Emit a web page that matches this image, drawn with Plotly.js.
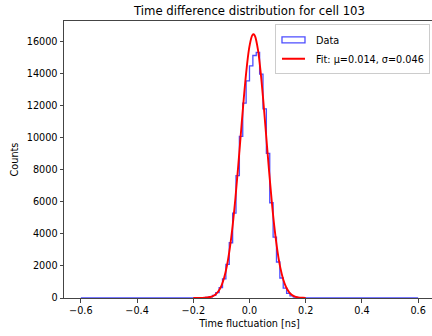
<!DOCTYPE html>
<html>
<head>
<meta charset="utf-8">
<script src="https://cdn.plot.ly/plotly-3.0.1.min.js"></script>
<style>
html, body { margin: 0; padding: 0; overflow: hidden; background: #fff; }
#chart { width: 437px; height: 336px; }
</style>
</head>
<body>
<div id="chart"></div>
<script>
// Histogram: 100 bins over [-0.6, 0.6]
const binStart = -0.6;
const binWidth = 0.012;
const counts = [
  0,0,0,0,0,0,0,0,0,0, 0,0,0,0,0,0,0,0,0,0, 0,0,0,0,0,0,0,0,0,0, 0,0,0,0,0,
  5,12,30,70,160,330,650,1200,2100,3450,5300,7650,10100,12170,13560,14500,
  15150,15340,13980,11810,9040,5950,3800,2250,1250,620,290,130,60,25,10,5,2,
  0,0,0,0,0,0,0,0,0,0, 0,0,0,0,0,0,0,0,0,0, 0,0,0,0,0,0,0,0,0,0, 0,0
];

// Fit curve
const fitX = [-0.20,-0.19,-0.18,-0.17,-0.16,-0.15,-0.14,-0.13,-0.12,-0.11,-0.10,
  -0.09,-0.08,-0.07,-0.06,-0.05,-0.04,-0.03,-0.02,-0.01,0.00,0.01,0.015,0.02,0.03,
  0.04,0.05,0.06,0.07,0.08,0.09,0.10,0.11,0.12,0.13,0.14,0.15,0.16,0.17,0.18,0.19,0.20];
const fitY = [0,1,2,6,13,29,61,123,237,436,764,
  1279,2043,3111,4519,6261,8275,10430,12541,14382,15735,16418,16478,16340,15513,
  14047,12133,9996,7855,5889,4209,2871,1868,1158,686,387,208,107,52,25,11,5];

const dataLabel = 'Data';
const fitLabel = 'Fit: μ=0.014, σ=0.046';
const titleText = 'Time difference distribution for cell 103';
const xLabel = 'Time fluctuation [ns]';
const yLabel = 'Counts';

// build step outline from bin edges
const stepX = [binStart];
const stepY = [0];
for (let i = 0; i < counts.length; i++) {
  stepX.push(binStart + i * binWidth);
  stepY.push(counts[i]);
}
stepX.push(binStart + counts.length * binWidth);
stepY.push(0);

const font = 'DejaVu Sans, sans-serif';
const axisColor = '#444';

const traces = [
  {
    type: 'scatter', mode: 'lines', x: stepX, y: stepY,
    line: { shape: 'hv', color: 'rgba(0,0,255,0.7)', width: 1.3 },
    name: dataLabel, hoverinfo: 'skip'
  },
  {
    type: 'scatter', mode: 'lines', x: fitX, y: fitY,
    line: { shape: 'spline', color: '#ff0000', width: 1.9 },
    name: fitLabel, hoverinfo: 'skip'
  }
];

const layout = {
  width: 437, height: 336,
  margin: { l: 64, r: 2, t: 21, b: 38 },
  paper_bgcolor: '#fff', plot_bgcolor: '#fff',
  font: { family: font, size: 9.7, color: '#000' },
  title: { text: titleText, font: { family: font, size: 11.7, color: '#000' },
           x: 0.5, xref: 'paper', xanchor: 'center', y: 0.967, yref: 'container', yanchor: 'middle' },
  xaxis: {
    range: [-0.66, 0.66], tickmode: 'linear', tick0: 0, dtick: 0.2, tickformat: '.1f',
    showgrid: false, zeroline: false, showline: true, mirror: true,
    linecolor: axisColor, linewidth: 1, ticks: 'outside', ticklen: 3.5, tickcolor: axisColor, tickwidth: 1,
    title: { text: xLabel, font: { family: font, size: 9.7, color: '#000' }, standoff: 5 },
    tickfont: { family: font, size: 9.7, color: '#000' }
  },
  yaxis: {
    range: [0, 17304], tickmode: 'linear', tick0: 0, dtick: 2000, tickformat: 'd',
    showgrid: false, zeroline: false, showline: true, mirror: true,
    linecolor: axisColor, linewidth: 1, ticks: 'outside', ticklen: 3.5, tickcolor: axisColor, tickwidth: 1,
    title: { text: yLabel, font: { family: font, size: 9.7, color: '#000' }, standoff: 6 },
    tickfont: { family: font, size: 9.7, color: '#000' }
  },
  showlegend: true,
  legend: {
    x: 0.9865, y: 0.988, xanchor: 'right', yanchor: 'top',
    bgcolor: 'rgba(255,255,255,0.8)', bordercolor: '#cccccc', borderwidth: 1,
    font: { family: font, size: 9.7, color: '#000' }, itemwidth: 30
  }
};

Plotly.newPlot('chart', traces, layout, { staticPlot: true, displayModeBar: false }).then(function () {
  // make the histogram legend icon an outlined rectangle like a step histogram patch
  const items = document.querySelectorAll('.legend .traces');
  if (items.length > 0) {
    const p = items[0].querySelector('.legendlines path');
    if (p) {
      p.setAttribute('d', 'M6,-3h23v6h-23z');
      p.style.fill = 'none';
    }
  }
  if (items.length > 1) {
    const p2 = items[1].querySelector('.legendlines path');
    if (p2) p2.setAttribute('d', 'M6,0h23');
  }
});
</script>
</body>
</html>
